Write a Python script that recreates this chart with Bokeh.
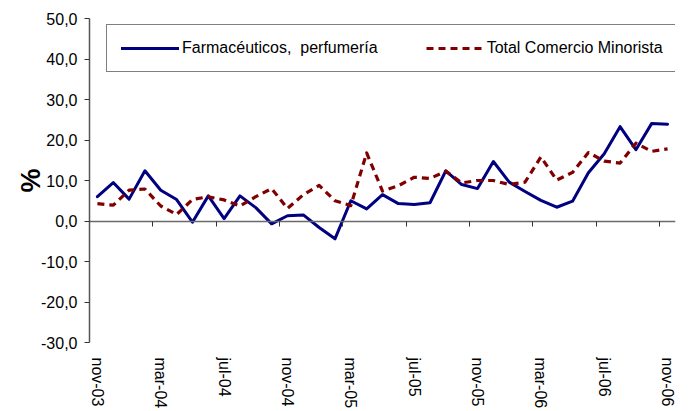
from bokeh.plotting import figure
from bokeh.models import Range1d, FixedTicker, LinearAxis, Legend, LegendItem
from bokeh.embed import file_html
from bokeh.resources import INLINE

# --- data ---
months = ["nov-03", "dic-03", "ene-04", "feb-04", "mar-04", "abr-04", "may-04", "jun-04",
          "jul-04", "ago-04", "sep-04", "oct-04", "nov-04", "dic-04", "ene-05", "feb-05",
          "mar-05", "abr-05", "may-05", "jun-05", "jul-05", "ago-05", "sep-05", "oct-05",
          "nov-05", "dic-05", "ene-06", "feb-06", "mar-06", "abr-06", "may-06", "jun-06",
          "jul-06", "ago-06", "sep-06", "oct-06", "nov-06"]

farmaceuticos = [6.0, 9.5, 5.4, 12.4, 7.6, 5.3, -0.3, 6.2, 0.6, 6.2, 3.3, -0.7, 1.3, 1.5,
                 -1.6, -4.4, 5.0, 3.0, 6.5, 4.3, 4.1, 4.5, 12.4, 9.0, 8.0, 14.7, 9.6, 7.3,
                 5.1, 3.4, 4.9, 11.9, 16.6, 23.3, 17.6, 24.1, 23.9]

total_minorista = [4.3, 3.9, 7.6, 7.9, 3.7, 1.6, 5.3, 6.0, 5.2, 3.7, 6.0, 8.0, 3.1, 6.5,
                   8.8, 5.0, 3.8, 16.8, 7.4, 8.7, 10.8, 10.5, 12.3, 9.4, 10.0, 10.0, 9.0,
                   9.6, 15.8, 10.1, 12.0, 16.9, 14.8, 14.3, 19.2, 17.2, 17.8]

series_names = ["Farmacéuticos,  perfumería", "Total Comercio Minorista"]
y_ticks = [-30, -20, -10, 0, 10, 20, 30, 40, 50]
y_tick_labels = ["-30,0", "-20,0", "-10,0", "0,0", "10,0", "20,0", "30,0", "40,0", "50,0"]
label_step = 4

FONT = "Liberation Sans"

x = list(range(len(months)))
label_pos = x[::label_step]
boundaries = [i - 0.5 for i in label_pos]

p = figure(width=688, height=411,
           x_range=Range1d(-0.5, len(months) - 0.5), y_range=Range1d(y_ticks[0], y_ticks[-1]),
           output_backend="svg", toolbar_location=None,
           min_border_left=89, min_border_right=13, min_border_top=18, min_border_bottom=67)
p.outline_line_color = None
p.grid.visible = False
p.background_fill_color = "white"
p.border_fill_color = "white"

# category labels at the bottom
xa = p.xaxis[0]
xa.ticker = FixedTicker(ticks=label_pos)
xa.major_label_overrides = {i: months[i] for i in label_pos}
xa.axis_line_color = None
xa.major_tick_line_color = None
xa.major_tick_out = 0
xa.major_tick_in = 0
xa.minor_tick_line_color = None
xa.major_label_orientation = "vertical"
xa.major_label_standoff = 15
xa.major_label_text_font = FONT
xa.major_label_text_font_size = "16px"
xa.major_label_text_color = "#000000"

# category axis line crossing at zero, with tick marks between categories
zero_axis = LinearAxis(fixed_location=0,
                       ticker=FixedTicker(ticks=[], minor_ticks=boundaries),
                       axis_line_color="#6a6a6a", axis_line_width=1.5,
                       major_tick_line_color=None,
                       minor_tick_line_color="#333333", minor_tick_out=0, minor_tick_in=5,
                       major_label_text_font_size="0px")
p.add_layout(zero_axis, "above")

ya = p.yaxis[0]
ya.ticker = FixedTicker(ticks=y_ticks)
ya.major_label_overrides = dict(zip(y_ticks, y_tick_labels))
ya.axis_line_color = "#555555"
ya.axis_line_width = 1.5
ya.major_tick_line_color = "#333333"
ya.major_tick_out = 5
ya.major_tick_in = 0
ya.minor_tick_line_color = None
ya.major_label_standoff = 7
ya.major_label_text_font = FONT
ya.major_label_text_font_size = "16px"
ya.major_label_text_color = "#000000"
ya.axis_label = "%"
ya.axis_label_text_font = FONT
ya.axis_label_text_font_size = "27px"
ya.axis_label_text_font_style = "bold"
ya.axis_label_text_color = "#000000"
ya.axis_label_standoff = -8

r1 = p.line(x, farmaceuticos, line_color="#000080", line_width=3, line_join="round",
            line_cap="round")
r2 = p.line(x, total_minorista, line_color="#800000", line_width=3.2, line_dash="7 5",
            line_join="round")

legend = Legend(items=[LegendItem(label=series_names[0], renderers=[r1]),
                       LegendItem(label=series_names[1], renderers=[r2])],
                orientation="horizontal", location=(17, 270),
                glyph_width=58, glyph_height=16, label_height=16, label_standoff=3,
                spacing=48, padding=14, margin=0,
                label_text_font=FONT, label_text_font_size="16px",
                label_text_color="#000000",
                border_line_color="#000000", border_line_width=1,
                background_fill_color="white", background_fill_alpha=1.0)
p.add_layout(legend)

open("out.html", "w").write(file_html(p, INLINE))
